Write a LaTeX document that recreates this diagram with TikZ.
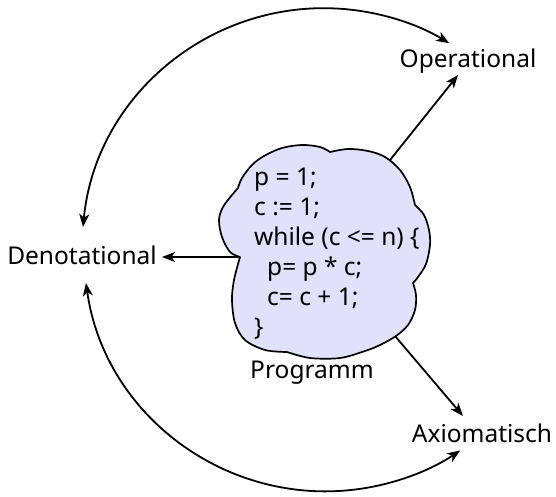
\documentclass[tikz,border=0pt]{standalone}
\usepackage{fontspec}
\setmainfont{Noto Sans}
\usetikzlibrary{arrows.meta}
\definecolor{cloudfill}{RGB}{224,226,252}
\begin{document}
\begin{tikzpicture}[x=1pt,y=-1pt,
  lbl/.style={inner sep=0pt, anchor=base, font=\fontsize{24.5}{30}\selectfont},
  codeline/.style={inner sep=0pt, anchor=base west, font=\fontsize{24.5}{30}\selectfont},
  conn/.style={line width=1.8pt, -{Stealth[length=13pt,width=10pt,inset=3.5pt]}},
  dconn/.style={line width=1.8pt, {Stealth[length=13pt,width=10pt,inset=3.5pt]}-{Stealth[length=13pt,width=10pt,inset=3.5pt]}},
  cloud/.style={draw=black, line width=1.7pt, fill=cloudfill, line join=round}]
\useasboundingbox (0,0) rectangle (556,497);

% cloud
\filldraw[cloud]
  plot[smooth, tension=0.55] coordinates {(240,257) (230,252) (222,237) (219,220) (223,207) (232,195) (238,188)}
  -- plot[smooth, tension=0.55] coordinates {(238,188) (242,178) (252,165) (264,156) (282,148) (302,145) (320,147) (330,152)}
  -- plot[smooth, tension=0.55] coordinates {(330,152) (348,149) (368,151) (385,157) (400,170) (410,187) (415,205)}
  -- plot[smooth, tension=0.55] coordinates {(415,205) (424,215) (429,230) (430,245) (426,264) (418,277) (413,283)}
  -- plot[smooth, tension=0.55] coordinates {(413,283) (416,295) (415,310) (408,325) (396,336) (380,345) (365,351) (340,358) (310,358) (287,352)}
  -- plot[smooth, tension=0.55] coordinates {(287,352) (265,350) (245,340) (235,323) (232,300) (234,280) (240,257)}
  -- cycle;

% code
\node[codeline] (c1) at (254,185) {p = 1;};
\node[codeline] (c2) at (254,215) {c := 1;};
\node[codeline] (c3) at (254,245) {while (c <= n) \{};
\node[codeline] (c4) at (267,275) {p= p * c;};
\node[codeline] (c5) at (267,305) {c= c + 1;};
\node[codeline] (c6) at (254,335) {\}};
\node[lbl] (prog) at (312,378) {Programm};

% labels
\node[lbl] (op) at (468,68) {Operational};
\node[lbl] (den) at (82,264) {Denotational};
\node[lbl] (ax) at (482,442) {Axiomatisch};

% connector end points
\coordinate (cOp) at (390,160);
\coordinate (cDen) at (240,257);
\coordinate (cAx) at (395,336);
\coordinate (tOp) at (458,75);
\coordinate (tDen) at (162,257);
\coordinate (tAx) at (463,416);
\coordinate (aDenTop) at (83,227);
\coordinate (aDenBot) at (86,283);

\draw[conn] (cOp) -- (tOp);
\draw[conn] (cDen) -- (tDen);
\draw[conn] (cAx) -- (tAx);

\draw[dconn] (aDenTop) arc[start angle=174.5, end angle=58.8, radius=242pt];
\draw[dconn] (aDenBot) arc[start angle=188, end angle=303.8, radius=242pt];
\end{tikzpicture}
\end{document}
